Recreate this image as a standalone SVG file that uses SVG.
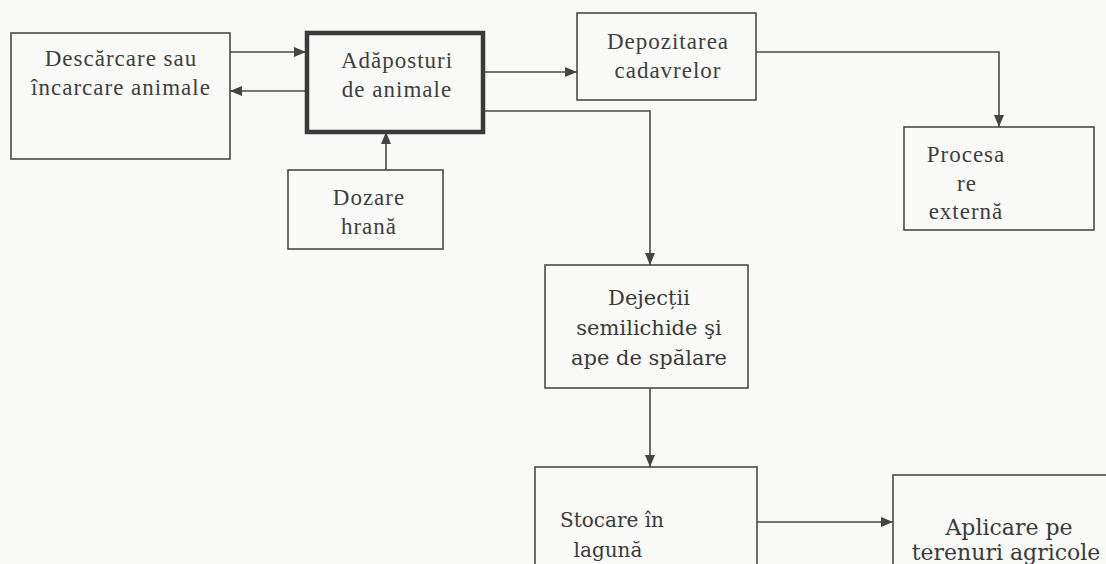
<svg xmlns="http://www.w3.org/2000/svg" width="1106" height="564" viewBox="0 0 1106 564">
<defs>
<marker id="ah" viewBox="0 0 12 10" refX="12" refY="5" markerWidth="12" markerHeight="10" markerUnits="userSpaceOnUse" orient="auto">
<path d="M0,0 L12,5 L0,10 z" fill="#444"/>
</marker>
<style>
.box{fill:none;stroke:#4a4a4a;stroke-width:1.6}
.thick{fill:none;stroke:#3a3a3a;stroke-width:4.5}
.c{fill:none;stroke:#4a4a4a;stroke-width:1.6}
.t{font-family:"Liberation Serif",serif;font-size:23px;letter-spacing:1px;fill:#3f3f3f;text-anchor:middle}
.p{font-family:"DejaVu Serif","Liberation Serif",serif;font-size:21px;fill:#3a3a3a;text-anchor:middle}
</style>
</defs>
<rect width="1106" height="564" fill="#f9f9f8"/>
<g id="connectors">
<line class="c" x1="230" y1="52" x2="306" y2="52" marker-end="url(#ah)"/>
<line class="c" x1="306" y1="91" x2="230" y2="91" marker-end="url(#ah)"/>
<line class="c" x1="483" y1="72" x2="577" y2="72" marker-end="url(#ah)"/>
<polyline class="c" points="756,52 999,52 999,127" marker-end="url(#ah)"/>
<line class="c" x1="386" y1="170" x2="386" y2="132" marker-end="url(#ah)"/>
<polyline class="c" points="483,111 650,111 650,265" marker-end="url(#ah)"/>
<line class="c" x1="650" y1="388" x2="650" y2="467" marker-end="url(#ah)"/>
<line class="c" x1="757" y1="522" x2="893" y2="522" marker-end="url(#ah)"/>
</g>
<g id="n1">
<rect class="box" x="11" y="33" width="219" height="126"/>
<text class="t" x="121" y="66">Descărcare sau</text>
<text class="t" x="121" y="95">încarcare animale</text>
</g>
<g id="n2">
<rect class="thick" x="307" y="33" width="176" height="99"/>
<text class="t" x="397" y="68">Adăposturi</text>
<text class="t" x="397" y="97">de animale</text>
</g>
<g id="n3">
<rect class="box" x="577" y="13" width="179" height="87"/>
<text class="t" x="668" y="49">Depozitarea</text>
<text class="t" x="668" y="78">cadavrelor</text>
</g>
<g id="n4">
<rect class="box" x="904" y="127" width="190" height="103"/>
<text class="t" x="966" y="162">Procesa</text>
<text class="t" x="967" y="191">re</text>
<text class="t" x="966" y="219">externă</text>
</g>
<g id="n5">
<rect class="box" x="288" y="170" width="155" height="79"/>
<text class="t" x="369" y="205">Dozare</text>
<text class="t" x="369" y="234">hrană</text>
</g>
<g id="n6">
<rect class="box" x="545" y="265" width="203" height="123"/>
<text class="p" x="649" y="305">Dejecții</text>
<text class="p" x="649" y="335">semilichide şi</text>
<text class="p" x="649" y="365">ape de spălare</text>
</g>
<g id="n7">
<rect class="box" x="535" y="467" width="222" height="110"/>
<text class="p" x="612" y="527" style="font-size:20px">Stocare în</text>
<text class="p" x="608" y="557" style="font-size:20px">lagună</text>
</g>
<g id="n8">
<rect class="box" x="893" y="475" width="220" height="100"/>
<text class="p" x="1009" y="535" style="font-size:22px">Aplicare pe</text>
<text class="p" x="1006" y="560" style="font-size:22px">terenuri agricole</text>
</g>
</svg>
